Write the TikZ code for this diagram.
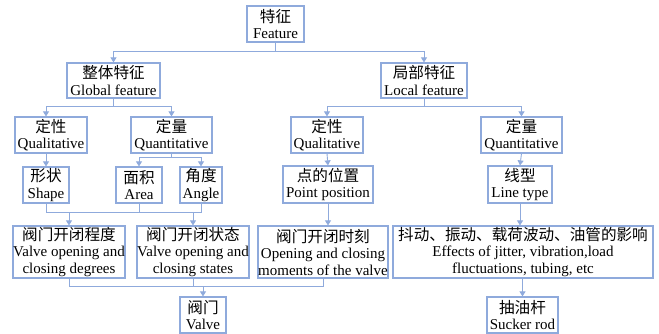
\documentclass[tikz,border=0pt]{standalone}
\usepackage{fontspec}
\setmainfont{Liberation Serif}
\newfontfamily\cjk[Scale=1.04]{Noto Sans CJK SC}
\usetikzlibrary{arrows.meta}
\definecolor{bl}{RGB}{143,170,220}
\tikzset{
  box/.style={draw=bl, line width=1.2pt, align=center, inner sep=0pt,
    font=\fontsize{15}{16.5}\selectfont, text=black},
  conn/.style={draw=bl, line width=0.9pt},
  arr/.style={conn, -{Triangle[width=6pt,length=5pt]}},
}
\newcommand\zh[1]{{\cjk #1}}
\newcommand\bx[6]{\node[box, minimum width={(#4-#2)*1pt}, minimum height={(#5-#3)*1pt}] (#1) at ({(#2+#4)/2},{(#3+#5)/2}) {#6};}
\begin{document}
\begin{tikzpicture}[x=1pt,y=-1pt]
\useasboundingbox[fill=white] (0,0) rectangle (659,334);
\bx{feat}{247}{6}{304}{42}{\zh{特征}\\Feature}
\bx{glob}{67}{63}{160}{98}{\zh{整体特征}\\Global feature}
\bx{loc}{381}{63}{467}{98}{\zh{局部特征}\\Local feature}
\bx{qualL}{15}{117}{87}{153}{\zh{定性}\\Qualitative}
\bx{quantG}{131}{117}{212}{153}{\zh{定量}\\Quantitative}
\bx{qualR}{291}{117}{363}{153}{\zh{定性}\\Qualitative}
\bx{quantR}{481}{117}{562}{153}{\zh{定量}\\Quantitative}
\bx{shape}{23}{167}{69}{203}{\zh{形状}\\Shape}
\bx{area}{116}{167}{162}{203}{\zh{面积}\\Area}
\bx{angle}{180}{167}{222}{203}{\zh{角度}\\Angle}
\bx{point}{283}{166}{373}{203}{\zh{点的位置}\\Point position}
\bx{line}{488}{166}{552}{203}{\zh{线型}\\Line type}
\bx{deg}{13}{226}{125}{278}{\zh{阀门开闭程度}\\Valve opening and\\closing degrees}
\bx{state}{137}{226}{249}{278}{\zh{阀门开闭状态}\\Valve opening and\\closing states}
\bx{mom}{258}{226}{388}{278}{\zh{阀门开闭时刻}\\Opening and closing\\moments of the valve}
\bx{eff}{393}{226}{653}{278}{\zh{抖动、振动、载荷波动、油管的影响}\\Effects of jitter, vibration,load\\fluctuations, tubing, etc}
\bx{valve}{180}{297}{226}{333}{\zh{阀门}\\Valve}
\bx{rod}{487}{297}{558}{333}{\zh{抽油杆}\\Sucker rod}
% junctions
\coordinate (j1) at (0,51);
\coordinate (j2) at (0,106);
\coordinate (j3) at (0,157);
\coordinate (j4) at (0,212);
\coordinate (j5) at (0,286);
% feature
\draw[conn] (feat.south) -- (feat.south |- j1);
\draw[arr] (feat.south |- j1) -| (glob.north);
\draw[arr] (feat.south |- j1) -| (loc.north);
% global
\draw[conn] (glob.south) -- (glob.south |- j2);
\draw[arr] (glob.south |- j2) -| (shape.north |- qualL.north);
\draw[arr] (glob.south |- j2) -| (quantG.north);
% local
\draw[conn] (loc.south) -- (loc.south |- j2);
\draw[arr] (loc.south |- j2) -| (qualR.north);
\draw[arr] (loc.south |- j2) -| (quantR.north);
% qualitative left
\draw[arr] (shape.north |- qualL.south) -- (shape.north);
% quantitative global
\draw[conn] (quantG.south) -- (quantG.south |- j3);
\draw[arr] (quantG.south |- j3) -| (area.north);
\draw[arr] (quantG.south |- j3) -| (angle.north);
% to valve states
\draw[conn] (shape.south) |- (angle.south |- j4) -- (angle.south);
\draw[conn] (area.south) -- (area.south |- j4);
\draw[arr] (deg.north |- j4) -- (deg.north);
\draw[arr] (state.north |- j4) -- (state.north);
% right side
\draw[arr] (qualR.south) -- (point.north);
\draw[arr] (point.south) -- (point.south |- mom.north);
\draw[arr] (quantR.south) -- (line.north);
\draw[arr] (line.south) -- (line.south |- eff.north);
\draw[arr] (rod.north |- eff.south) -- (rod.north);
% to valve
\draw[conn] (deg.south) |- (mom.south |- j5) -- (mom.south);
\draw[conn] (state.south) -- (state.south |- j5);
\draw[arr] (valve.north |- j5) -- (valve.north);
\end{tikzpicture}
\end{document}
